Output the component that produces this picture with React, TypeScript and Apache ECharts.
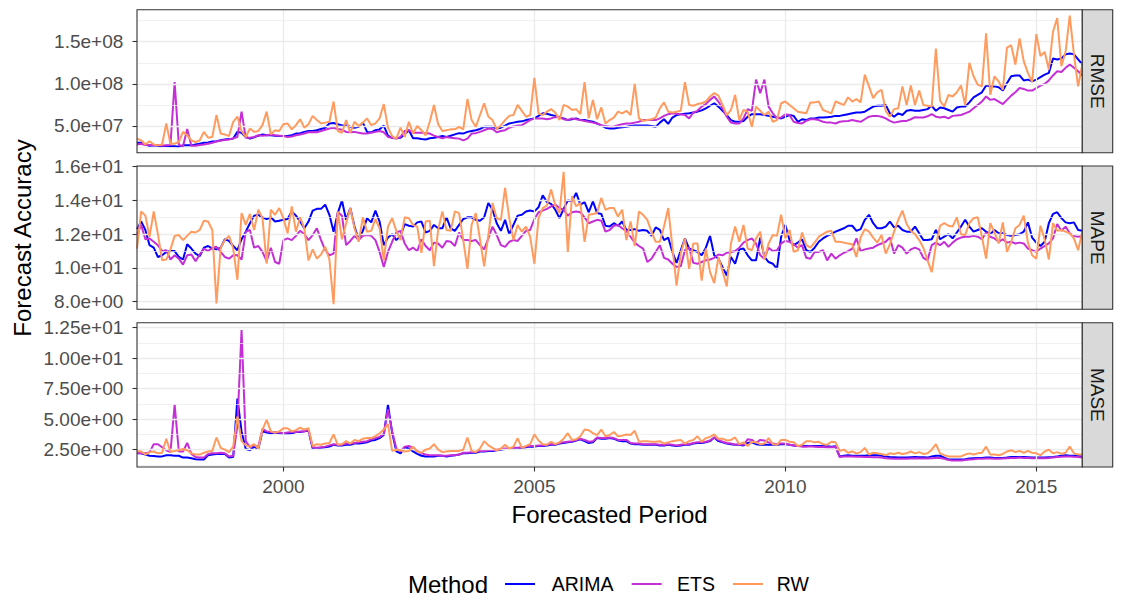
import React, { useEffect, useRef } from 'react';
import * as echarts from 'echarts';

// Monthly forecast periods: Feb 1997 .. Dec 2015
const START_YEAR = 1997;
const START_MONTH = 2;

const methodNames = ['ARIMA', 'ETS', 'RW'];
const metricNames = ['RMSE', 'MAPE', 'MASE'];

// RMSE, in millions
const rmseArimaMillions = [
  30, 30, 28, 26.5, 27, 26.5, 26, 26.5, 26, 26,
  25.5, 27, 27, 27, 28, 29, 30, 30.5, 31.5, 32,
  33, 34, 34.5, 35, 43, 42, 37, 35, 36.5, 38.5,
  40, 39, 39, 38.5, 38, 38, 38, 39, 41, 41.5,
  43, 44, 44, 45, 46.5, 48, 53, 53.5, 52, 50.5,
  50.5, 49, 48, 49, 54, 43, 42.5, 45, 46, 50.5,
  38.5, 36, 35.5, 36, 40, 45, 35.5, 35.5, 34.5, 34,
  35.5, 36, 37, 38, 37, 38.5, 40, 41.5,
  41, 43, 44, 45, 46.5, 49, 49, 49, 47, 48,
  50.5, 53, 54, 55, 55.5, 57, 58, 59, 62, 65,
  64.5, 63, 62, 60, 59, 57, 58, 59, 57, 57,
  56, 55, 53, 50.5, 48, 47, 47, 48, 48.5, 49,
  50, 50.5, 50.5, 50.5, 50.5, 50, 49, 54, 58, 52.5,
  60, 63, 64, 64.5, 65, 66, 67, 68.5, 71, 74,
  77, 73, 68, 63, 57, 55, 55, 56, 61, 64,
  64, 64, 63, 62, 61, 60,
  59, 61, 63, 62, 55, 58, 57, 59, 59, 60,
  60, 60.5, 61, 62, 62, 63, 64, 65, 66, 66,
  67, 70, 73, 74, 74, 75, 65, 61, 65, 63,
  68, 69, 68, 68, 69, 70, 74, 68, 72, 71,
  69, 67, 72, 73, 73, 78, 84, 87, 90, 98,
  97, 97, 96, 92, 101, 109, 110, 110, 104, 105,
  103, 105, 108, 111, 113, 130, 129, 130, 135, 136,
  135, 129, 123,
];
const rmseEtsMillions = [
  28, 29, 27.5, 27.5, 27, 27.5, 26.5, 27, 27.5, 102,
  27.5, 26, 46.5, 26.5, 26.5, 27.5, 28, 29, 30, 31.5,
  32.5, 33.5, 34, 35.5, 37, 67, 36, 36, 37, 39,
  38.5, 39, 40, 39, 38.5, 38, 37, 37.5, 39, 40,
  41, 42.5, 43, 42.5, 44, 45.5, 47, 48, 46.5, 45.5,
  43, 42.5, 43, 42, 41, 41, 42, 43, 44, 42.5,
  37, 36, 35, 37, 44, 45, 42, 42, 42, 41.5,
  41, 38.5, 37, 35.5, 37, 36, 35.5, 35,
  33, 35, 41, 41.5, 43, 45, 47, 46.5, 42.5, 44,
  45, 48, 49.5, 50.5, 51, 54, 57, 59, 59, 59,
  58, 59, 60.5, 61, 58, 57, 59, 58, 57, 56,
  55, 54, 53, 51, 50, 49, 49.5, 51, 52, 53,
  53, 54, 55, 57, 57, 57, 57, 59, 62, 64,
  65, 64.5, 64, 63, 59, 66, 68, 73, 76, 81,
  85, 79, 71, 61, 54, 53, 53, 59, 70, 68,
  105, 89, 105, 73, 65, 59,
  60, 64, 63, 55, 53.5, 53, 56, 58, 58, 57,
  55, 54, 54, 53, 55, 55.5, 56, 57, 56, 55,
  58, 61, 62, 62, 61, 59, 56, 54, 55, 56,
  56, 58, 60.5, 60, 60, 61.5, 64, 61, 60, 61,
  59, 62, 62.5, 63, 65, 67, 71, 75, 79, 85,
  81, 82, 79, 76, 81, 86, 90, 95, 94, 92,
  92, 95, 98, 100, 104, 110, 115, 114, 119, 123,
  119, 115, 110,
];
const rmseRwMillions = [
  35, 33, 28, 32, 28, 27, 28, 53, 29, 29,
  31, 43, 39, 33, 31, 33, 43, 36, 37, 63,
  41, 40, 38, 55, 61, 44, 37, 47, 43, 44,
  51, 67, 40, 45, 44, 52, 53, 46, 51, 58,
  48, 52, 62, 57, 53, 54, 55, 79, 44, 42,
  57, 42, 55, 50, 54, 59, 51, 53, 59, 76,
  48, 38, 35, 48, 37, 55, 41, 50, 45, 39,
  55, 75, 52, 44, 45, 46, 46, 49,
  46, 82, 57, 49, 63, 77, 61, 57, 46, 51,
  57, 62, 63, 75, 68, 61, 63, 107, 65, 63,
  67, 70, 66, 57, 75, 73, 69, 70, 64, 102,
  59, 81, 58, 72, 53, 57, 60, 67, 65, 68,
  63, 100, 59, 56, 57, 58, 60, 71, 78, 67,
  66, 67, 68, 102, 75, 74, 76, 77, 79, 85,
  89, 86, 75, 63, 69, 87, 57, 69, 67, 49,
  73, 68, 63, 67, 55, 57,
  77, 79, 75, 71, 67, 66, 65, 78, 78, 79,
  69, 67, 65, 79, 77, 75, 84, 79, 82, 78,
  111, 97, 83, 90, 93, 68, 61, 70, 71, 97,
  75, 98, 75, 92, 75, 74, 73, 142, 80, 73,
  87, 85, 90, 98, 75, 125, 109, 99, 97, 160,
  87, 109, 103, 93, 143, 146, 123, 154, 127, 113,
  102, 159, 133, 138, 117, 162, 178, 121, 138, 181,
  135, 97, 123,
];

// MAPE
const mapeArima = [
  12.3, 12.75, 12.25, 11.35, 11.2, 10.65, 10.75, 10.95, 11.0, 11.0,
  10.65, 10.5, 11.4, 11.15, 10.85, 10.7, 11.2, 11.3, 11.15, 11.1,
  11.2, 11.7, 11.6, 11.3, 11.05, 11.7, 12.15, 12.65, 13.1, 13.15,
  13.0, 12.9, 13.0, 12.75, 12.8, 12.85, 12.9, 13.35, 13.1, 12.75,
  12.35, 12.75, 13.4, 13.5, 13.5, 13.75, 13.15, 12.15, 13.25, 14.0,
  12.85, 13.55, 12.45, 11.7, 12.2, 12.95, 12.7, 13.4, 12.75, 11.35,
  11.8, 12.0, 11.65, 11.9, 12.6, 12.5, 12.45, 12.7, 12.75, 12.1,
  12.2, 12.55, 12.35, 12.35, 13.0, 12.35, 12.2, 12.55,
  12.9, 13.0, 13.0, 12.85, 12.8, 13.0, 13.85, 13.45, 12.65, 12.2,
  12.85, 12.0, 12.55, 13.1, 13.15, 13.35, 13.4, 13.35, 13.6, 14.3,
  13.9, 13.8, 13.45, 12.95, 13.5, 14.0, 13.95, 14.45, 13.75, 13.9,
  13.3, 13.95, 13.25, 13.2, 12.5, 12.45, 12.65, 12.5, 12.75, 12.25,
  12.25, 12.3, 12.2, 12.25, 12.2, 11.9, 12.4, 12.25, 11.65, 11.8,
  10.95, 10.3, 11.05, 11.75, 11.15, 11.05, 10.95, 10.75, 11.2, 11.9,
  10.75, 10.55, 10.05, 9.55, 10.65, 10.25, 11.1, 11.15, 10.75, 10.45,
  10.45, 11.8, 10.65, 10.35, 10.25, 9.95,
  11.85, 12.55, 11.65, 11.35, 11.5, 11.7, 11.05, 10.95, 11.2, 11.55,
  11.75, 11.9, 12.0, 12.15, 12.25, 12.35, 12.5, 12.5, 12.2, 12.3,
  12.85, 13.15, 12.65, 12.35, 12.35, 12.45, 12.75, 12.4, 12.5, 12.25,
  12.15, 12.15, 12.45, 12.05, 11.65, 11.65, 11.7, 12.25, 11.7, 11.85,
  12.0, 11.75, 12.1, 12.45, 12.85, 12.45, 12.15, 12.25, 12.35, 12.15,
  12.0, 12.25, 12.05, 12.05, 11.95, 11.9, 11.95, 12.0, 12.15, 12.7,
  11.8, 11.5, 11.3, 11.55, 12.65, 13.2, 13.3, 12.95, 12.7, 12.65,
  12.7, 12.25, 12.2,
];
const mapeEts = [
  11.95, 12.55, 11.7, 11.75, 11.55, 11.35, 11.0, 11.05, 10.5, 10.75,
  10.55, 10.2, 10.75, 10.8, 10.4, 10.8, 11.15, 11.0, 11.2, 11.25,
  10.95, 10.65, 10.55, 10.75, 10.75, 10.5, 12.15, 12.25, 11.2, 11.3,
  10.95, 10.4, 11.2, 10.35, 10.25, 11.65, 11.75, 11.65, 11.9, 12.2,
  12.0, 11.65, 11.95, 12.35, 11.65, 11.05, 10.75, 10.85, 13.3, 13.1,
  11.35, 11.6, 11.9, 11.65, 11.9, 11.95, 11.9, 11.65, 10.95, 10.05,
  10.95, 11.55, 12.1, 12.2, 11.45, 11.05, 11.2, 11.0, 11.7, 11.3,
  11.05, 11.5, 11.45, 11.2, 11.6, 11.55, 11.3, 12.1,
  11.65, 11.65, 11.6, 11.65, 11.35, 11.1, 11.75, 12.45, 11.95, 11.35,
  11.25, 11.55, 11.65, 11.6, 11.9, 12.2, 12.25, 12.9, 13.3, 13.4,
  13.5, 13.65, 13.75, 13.55, 13.45, 13.1, 13.3, 13.35, 13.3, 13.0,
  12.65, 12.75, 12.85, 12.8, 12.15, 12.25, 12.5, 12.55, 12.35, 12.2,
  11.85, 11.5, 11.3, 11.15, 10.35, 10.55, 10.95, 11.35, 10.6, 10.5,
  10.25, 10.05, 10.1, 11.05, 11.2, 10.3, 10.25, 10.35, 10.45, 10.5,
  10.6, 10.8, 10.75, 10.9, 10.95, 11.0, 11.2, 11.5, 11.65, 11.75,
  11.45, 10.75, 10.55, 11.2, 11.0, 11.05,
  11.45, 11.6, 11.55, 11.4, 11.2, 11.35, 10.6, 10.55, 10.95, 10.95,
  11.05, 10.45, 10.85, 10.55, 10.75, 10.9, 11.0, 11.15, 11.75, 11.0,
  11.1, 11.15, 11.2, 11.35, 11.45, 11.55, 11.8, 10.85, 11.35, 11.2,
  10.85, 11.1, 11.2, 11.1, 10.6, 10.45, 11.35, 11.5, 11.35, 11.55,
  11.25, 11.5, 11.7, 11.8, 11.85, 11.85, 11.9, 11.85, 11.7, 12.1,
  11.85, 11.75, 11.55, 11.7, 11.5, 11.55, 11.45, 11.5, 11.45, 11.15,
  11.05, 10.95, 11.15, 11.3, 11.45, 11.75, 12.6, 12.2, 12.45, 12.05,
  11.9, 11.85, 11.9,
];
const mapeRw = [
  11.15, 13.35, 13.1, 11.85, 13.35, 12.0, 10.45, 10.5, 11.1, 11.9,
  11.95, 11.65, 11.9, 12.15, 12.1, 12.25, 12.8, 12.75, 12.25, 7.9,
  11.2, 11.65, 11.9, 11.15, 9.3, 13.25, 12.55, 13.2, 12.25, 13.45,
  12.95, 10.25, 13.45, 13.15, 13.55, 12.95, 12.05, 13.65, 12.15, 13.0,
  12.35, 10.45, 11.1, 10.55, 10.8, 11.25, 10.5, 7.85, 13.35, 11.7,
  12.65, 13.55, 12.35, 11.55, 13.0, 12.15, 12.2, 12.9, 12.35, 10.45,
  12.45, 12.95, 12.2, 11.65, 13.0, 12.95, 12.55, 12.45, 10.9, 12.75,
  12.8, 10.1, 12.25, 13.35, 12.25, 12.2, 13.35, 13.25,
  11.65, 9.95, 12.55, 13.25, 11.7, 10.1, 11.95, 13.85, 12.95, 12.85,
  14.75, 12.95, 11.65, 12.55, 12.15, 12.45, 11.85, 10.25, 12.95, 13.55,
  13.7, 14.65, 13.7, 13.25, 15.7, 10.95, 14.25, 13.65, 13.85, 11.55,
  13.15, 13.2, 13.25, 14.15, 13.45, 13.55, 13.55, 13.05, 13.45, 11.65,
  12.75, 11.3, 13.35, 13.15, 12.85, 12.15, 11.55, 11.55, 12.45, 13.55,
  11.25, 8.95, 10.85, 11.75, 9.95, 11.45, 11.45, 9.25, 11.15, 9.75,
  9.1, 10.65, 9.8, 8.9, 11.45, 12.45, 11.55, 12.55, 11.15, 11.05,
  11.75, 12.15, 10.5, 11.45, 11.95, 11.9,
  13.15, 11.75, 12.25, 10.95, 11.05, 12.1, 11.35, 11.2, 11.5, 11.85,
  12.0, 12.15, 12.2, 11.55, 11.55, 11.5, 11.45, 11.4, 10.65, 11.8,
  12.3, 12.15, 11.8, 11.5, 11.95, 10.85, 11.4, 12.15, 12.85, 13.4,
  12.6, 12.2, 12.0, 11.65, 11.2, 10.45, 9.75, 11.35, 12.5, 12.65,
  12.5, 12.45, 13.0, 12.0, 11.95, 12.65, 12.95, 13.0, 11.85, 10.55,
  12.65, 12.1, 11.45, 12.7, 10.95, 11.55, 12.35, 12.55, 13.1, 11.5,
  10.75, 10.55, 12.5, 11.7, 10.5, 12.65, 12.2, 12.25, 12.15, 12.05,
  11.75, 11.05, 12.15,
];

// MASE
const maseArima = [
  2.2, 2.2, 2.1, 2.0, 1.98, 1.95, 1.95, 2.05, 2.05, 2.0,
  2.0, 1.85, 1.85, 1.8, 1.72, 1.7, 1.7, 2.05, 2.1, 2.15,
  2.15, 2.15, 1.85, 1.9, 6.7, 4.0, 2.55, 2.45, 2.75, 2.55,
  4.0, 3.9, 3.85, 3.9, 3.85, 3.8, 3.8, 3.85, 3.95, 3.95,
  4.0, 4.05, 2.6, 2.6, 2.65, 2.7, 2.75, 2.9, 2.85, 2.85,
  2.9, 2.9, 3.0, 3.0, 3.05, 3.1, 3.25, 3.3, 3.45, 3.7,
  6.2, 3.9, 2.36, 2.2, 2.7, 2.6, 2.36, 2.15, 2.0, 1.95,
  1.95, 1.95, 2.0, 2.0, 1.95, 2.0, 2.05, 2.1,
  2.2, 2.2, 2.25, 2.25, 2.35, 2.35, 2.4, 2.4, 2.45, 2.5,
  2.55, 2.55, 2.6, 2.6, 2.65, 2.7, 2.75, 2.75, 2.8, 2.8,
  2.85, 2.9, 2.9, 3.0, 3.05, 3.1, 3.15, 3.25, 3.35, 3.2,
  3.05, 3.1, 3.45, 3.4, 3.4, 3.45, 3.4, 3.25, 3.2, 3.2,
  3.0, 2.95, 2.95, 2.9, 2.9, 2.9, 2.9, 2.85, 2.85, 2.9,
  2.85, 2.8, 2.85, 2.9, 2.9, 3.0, 3.05, 3.05, 3.1, 3.2,
  3.5, 3.2, 3.1, 3.0, 2.95, 2.9, 2.9, 2.85, 3.05, 3.1,
  2.95, 2.9, 2.9, 2.9, 2.9, 2.9,
  2.95, 2.95, 2.9, 2.85, 2.8, 2.8, 2.8, 2.8, 2.8, 2.8,
  2.8, 2.78, 2.75, 2.78, 1.95, 2.0, 2.05, 2.0, 2.0, 2.0,
  2.0, 2.05, 2.05, 2.05, 2.0, 1.95, 1.9, 1.88, 1.85, 1.85,
  1.85, 1.88, 1.9, 1.88, 1.88, 1.85, 1.95, 2.0, 2.0, 1.85,
  1.7, 1.7, 1.7, 1.7, 1.72, 1.78, 1.8, 1.82, 1.82, 1.85,
  1.85, 1.82, 1.82, 1.82, 1.85, 1.9, 1.9, 1.9, 1.9, 1.88,
  1.85, 1.85, 1.85, 1.85, 1.88, 1.9, 1.95, 2.0, 2.05, 2.0,
  2.0, 1.98, 1.95,
];
const maseEts = [
  2.25, 2.2, 2.2, 2.3, 2.95, 2.95, 2.7, 2.45, 2.3, 6.2,
  2.35, 2.35, 3.05, 2.15, 1.9, 1.85, 1.85, 2.15, 2.2, 2.2,
  2.25, 2.2, 1.95, 2.0, 4.5, 12.3, 3.2, 2.7, 2.85, 2.75,
  4.2, 4.0, 3.95, 3.9, 3.9, 3.85, 3.9, 3.95, 3.95, 4.0,
  4.0, 4.1, 2.7, 2.65, 2.7, 2.75, 2.85, 2.95, 2.9, 2.9,
  3.0, 3.0, 3.05, 3.1, 3.15, 3.2, 3.35, 3.45, 3.55, 3.8,
  5.8, 4.0, 2.6, 2.35, 2.75, 2.8, 2.65, 2.4, 2.2, 2.1,
  2.05, 2.05, 2.05, 2.0, 2.0, 2.05, 2.05, 2.1,
  2.25, 2.25, 2.3, 2.3, 2.4, 2.4, 2.45, 2.45, 2.5, 2.55,
  2.6, 2.6, 2.65, 2.65, 2.7, 2.75, 2.8, 2.8, 2.85, 2.85,
  2.9, 2.95, 2.95, 3.05, 3.1, 3.15, 3.2, 3.3, 3.4, 3.3,
  3.15, 3.2, 3.5, 3.45, 3.45, 3.5, 3.45, 3.3, 3.3, 3.3,
  3.05, 3.0, 3.0, 2.95, 2.95, 2.95, 2.95, 2.9, 2.9, 2.95,
  2.9, 2.85, 2.9, 2.95, 2.95, 3.05, 3.1, 3.1, 3.15, 3.25,
  3.5, 3.3, 3.15, 3.05, 3.0, 2.9, 2.95, 2.9, 3.35, 3.3,
  3.05, 3.3, 3.25, 3.1, 3.0, 2.95,
  3.0, 3.0, 2.9, 2.85, 2.8, 2.75, 2.75, 2.78, 2.75, 2.72,
  2.72, 2.7, 2.7, 2.72, 1.9, 1.95, 1.95, 1.95, 1.92, 1.92,
  1.9, 1.9, 1.88, 1.88, 1.85, 1.8, 1.78, 1.75, 1.75, 1.75,
  1.75, 1.78, 1.8, 1.78, 1.78, 1.78, 1.8, 1.82, 1.82, 1.75,
  1.65, 1.62, 1.62, 1.62, 1.65, 1.7, 1.72, 1.75, 1.75, 1.78,
  1.78, 1.75, 1.75, 1.78, 1.8, 1.82, 1.82, 1.85, 1.82, 1.82,
  1.8, 1.8, 1.8, 1.8, 1.82, 1.85, 1.9, 1.92, 1.95, 1.95,
  1.92, 1.9, 1.85,
];
const maseRw = [
  2.4, 2.35, 2.1, 2.3, 2.35, 2.2, 2.25, 3.4, 2.3, 2.4,
  2.45, 2.55, 2.45, 2.2, 2.1, 2.1, 2.25, 2.35, 2.4, 3.5,
  2.65, 2.5, 2.3, 2.75, 5.2, 3.2, 2.85, 2.75, 2.95, 2.6,
  4.15, 4.95, 4.0, 3.9, 4.0, 4.25, 4.25, 4.0, 4.1, 4.3,
  4.15, 4.25, 2.8, 2.95, 2.9, 3.0, 3.05, 3.75, 2.9, 2.95,
  3.2, 3.0, 3.3, 3.2, 3.4, 3.45, 3.45, 3.6, 3.85, 4.15,
  4.6, 2.4, 2.5, 2.45, 2.35, 2.4, 2.75, 2.35, 2.25, 2.5,
  2.6, 2.95, 2.5, 2.3, 2.35, 2.4, 2.4, 2.4,
  2.5, 3.5, 2.4, 2.3, 2.6, 3.2, 2.85, 2.65, 2.45, 2.6,
  2.9, 2.6, 2.75, 3.45, 2.65, 2.8, 2.95, 3.75, 3.25, 2.95,
  2.9, 3.15, 2.95, 3.1, 3.4, 3.85, 3.3, 3.35, 3.6, 4.15,
  4.1, 3.85, 3.7, 4.15, 3.6, 3.7, 3.95, 3.6, 3.65, 3.75,
  3.7, 4.05, 3.15, 3.2, 3.2, 3.15, 3.15, 3.2, 3.0, 3.1,
  3.2, 3.25, 3.3, 3.0, 3.2, 3.3, 3.6, 3.15, 3.45, 3.55,
  3.75, 3.4, 3.4, 3.25, 3.3, 3.5, 2.95, 3.1, 2.8, 3.15,
  3.1, 2.95, 3.0, 3.45, 2.95, 2.9,
  3.3, 3.3, 3.15, 3.1, 2.8, 2.9, 3.2, 3.2, 3.1, 3.15,
  2.95, 2.9, 3.15, 3.1, 2.4, 2.5, 2.25, 2.35, 2.2, 2.3,
  2.65, 2.1, 2.25, 2.2, 2.15, 2.05, 2.2, 2.15, 2.25, 2.15,
  2.2, 2.35, 2.2, 2.3, 2.15, 2.2, 2.5, 2.95, 2.2, 2.05,
  1.95, 1.95, 1.95, 1.95, 2.1, 2.2, 2.1, 2.2, 2.25, 2.75,
  2.1, 2.1, 2.05, 2.15, 2.35, 2.45, 2.3, 2.4, 2.25, 2.4,
  2.25, 2.2, 2.05, 2.35, 2.5, 2.2, 2.3, 2.15, 2.25, 2.75,
  2.2, 2.1, 2.1,
];

// Tick values
const xTicks = [2000, 2005, 2010, 2015];
const rmseTicks = [5e7, 1e8, 1.5e8];
const rmseMinor = [2.5e7, 7.5e7, 1.25e8, 1.75e8];
const mapeTicks = [8, 10, 12, 14, 16];
const mapeMinor = [9, 11, 13, 15];
const maseTicks = [2.5, 5, 7.5, 10, 12.5];
const maseMinor = [1.25, 3.75, 6.25, 8.75, 11.25];

const COLORS: Record<string, string> = { ARIMA: '#0000FF', ETS: '#C42ED6', RW: '#FF9B5E' };
const FONT = '"Liberation Sans", Arial, Helvetica, sans-serif';

const LEFT = 137;
const PANEL_W = 945.3;
const PANELS = [
  { top: 9.7, height: 143 },
  { top: 166, height: 143.3 },
  { top: 322.7, height: 144.3 },
];

function sci(digits: number) {
  return (v: number) => Number(v).toExponential(digits).replace(/e([+-])(\d)$/, 'e$10$2');
}

export default function App() {
  const ref = useRef<HTMLDivElement>(null);

  useEffect(() => {
    if (!ref.current) return;
    const chart = echarts.init(ref.current, undefined, { renderer: 'svg' });

    const times = rmseArimaMillions.map((_, i) => START_YEAR + (START_MONTH - 1 + i) / 12);
    const tMin = times[0];
    const tMax = times[times.length - 1];

    const panelData = [
      {
        series: [rmseArimaMillions, rmseEtsMillions, rmseRwMillions],
        unit: 1e6,
        min: 1.83e7,
        max: 1.88e8,
        ticks: rmseTicks,
        minor: rmseMinor,
        fmt: sci(1),
      },
      {
        series: [mapeArima, mapeEts, mapeRw],
        unit: 1,
        min: 7.55,
        max: 16.04,
        ticks: mapeTicks,
        minor: mapeMinor,
        fmt: sci(1),
      },
      {
        series: [maseArima, maseEts, maseRw],
        unit: 1,
        min: 1.08,
        max: 12.91,
        ticks: maseTicks,
        minor: maseMinor,
        fmt: sci(2),
      },
    ];

    const tickLine = { color: '#333333', width: 1.1 };
    const axisText = { fontSize: 19, color: '#4D4D4D', fontFamily: FONT };

    const grids = PANELS.map((p) => ({
      left: LEFT,
      top: p.top,
      width: PANEL_W,
      height: p.height,
      show: false,
      containLabel: false,
      outerBoundsMode: 'none',
    }));

    const xAxes = PANELS.map((_, p) => ({
      type: 'value',
      gridIndex: p,
      min: tMin,
      max: tMax,
      axisLine: { show: false },
      axisTick: { show: p === 2, customValues: xTicks, length: 4.5, lineStyle: tickLine },
      axisLabel: {
        show: p === 2,
        customValues: xTicks,
        margin: 9.5,
        ...axisText,
        formatter: (v: number) => String(Math.round(v)),
      },
      splitLine: { show: false },
      minorSplitLine: { show: false },
    }));

    const yAxes = panelData.map((d, p) => ({
      type: 'value',
      gridIndex: p,
      min: d.min,
      max: d.max,
      axisLine: { show: false },
      axisTick: { show: true, customValues: d.ticks, length: 4.5, lineStyle: tickLine },
      axisLabel: { customValues: d.ticks, margin: 13.7, ...axisText, formatter: d.fmt },
      splitLine: { show: false },
    }));

    const series: any[] = [];
    panelData.forEach((d, p) => {
      const gridLines: any[] = [];
      d.minor.forEach((v) =>
        gridLines.push({ yAxis: v, lineStyle: { color: '#EBEBEB', width: 0.7, type: 'solid' } })
      );
      d.ticks.forEach((v) =>
        gridLines.push({ yAxis: v, lineStyle: { color: '#EBEBEB', width: 1.3, type: 'solid' } })
      );
      xTicks.forEach((v) =>
        gridLines.push({ xAxis: v, lineStyle: { color: '#EBEBEB', width: 1.3, type: 'solid' } })
      );
      series.push({
        type: 'line',
        name: 'grid-' + metricNames[p],
        xAxisIndex: p,
        yAxisIndex: p,
        data: [],
        z: 1,
        silent: true,
        markLine: {
          silent: true,
          symbol: ['none', 'none'],
          label: { show: false },
          emphasis: { disabled: true },
          data: gridLines,
        },
      });
      d.series.forEach((vals, m) => {
        const name = methodNames[m];
        series.push({
          type: 'line',
          name,
          xAxisIndex: p,
          yAxisIndex: p,
          data: vals.map((v, i) => [times[i], v * d.unit]),
          showSymbol: false,
          symbol: 'none',
          silent: true,
          z: 3 + m,
          lineStyle: { color: COLORS[name], width: 2 },
          itemStyle: { color: COLORS[name] },
          emphasis: { disabled: true },
        });
      });
    });

    const graphics: any[] = [];
    PANELS.forEach((p, idx) => {
      graphics.push({
        type: 'rect',
        z: 100,
        silent: true,
        shape: { x: LEFT, y: p.top, width: PANEL_W, height: p.height },
        style: { fill: 'none', stroke: '#333333', lineWidth: 1.1 },
      });
      graphics.push({
        type: 'rect',
        z: 100,
        silent: true,
        shape: { x: LEFT + PANEL_W, y: p.top, width: 30.4, height: p.height },
        style: { fill: '#D9D9D9', stroke: '#333333', lineWidth: 1.1 },
      });
      graphics.push({
        type: 'text',
        z: 101,
        silent: true,
        x: LEFT + PANEL_W + 15.4,
        y: p.top + p.height / 2,
        rotation: -Math.PI / 2,
        style: {
          text: metricNames[idx],
          fontSize: 19,
          fontFamily: FONT,
          fill: '#1A1A1A',
          align: 'center',
          verticalAlign: 'middle',
        },
      });
    });

    graphics.push({
      type: 'text',
      silent: true,
      x: 22,
      y: 238,
      rotation: Math.PI / 2,
      style: {
        text: 'Forecast Accuracy',
        fontSize: 24,
        fontFamily: FONT,
        fill: '#000000',
        align: 'center',
        verticalAlign: 'middle',
      },
    });
    graphics.push({
      type: 'text',
      silent: true,
      x: LEFT + PANEL_W / 2,
      y: 514,
      style: {
        text: 'Forecasted Period',
        fontSize: 24,
        fontFamily: FONT,
        fill: '#000000',
        align: 'center',
        verticalAlign: 'middle',
      },
    });

    // Legend
    const legendY = 584;
    graphics.push({
      type: 'text',
      silent: true,
      x: 408,
      y: legendY,
      style: {
        text: 'Method',
        fontSize: 24,
        fontFamily: FONT,
        fill: '#000000',
        align: 'left',
        verticalAlign: 'middle',
      },
    });
    const keyX = [505, 631.7, 733];
    const labelX = [551.7, 677, 776.7];
    methodNames.forEach((name, m) => {
      graphics.push({
        type: 'line',
        silent: true,
        shape: { x1: keyX[m], y1: legendY, x2: keyX[m] + 30, y2: legendY },
        style: { stroke: COLORS[name], lineWidth: 2 },
      });
      graphics.push({
        type: 'text',
        silent: true,
        x: labelX[m],
        y: legendY,
        style: {
          text: name,
          fontSize: 19.5,
          fontFamily: FONT,
          fill: '#000000',
          align: 'left',
          verticalAlign: 'middle',
        },
      });
    });

    chart.setOption({
      animation: false,
      backgroundColor: '#FFFFFF',
      textStyle: { fontFamily: FONT },
      grid: grids,
      xAxis: xAxes,
      yAxis: yAxes,
      series,
      graphic: { elements: graphics },
    });

    return () => {
      chart.dispose();
    };
  }, []);

  return (
    <div
      ref={ref}
      style={{ position: 'absolute', left: 0, top: 0, width: 1122, height: 596, background: '#FFFFFF' }}
    />
  );
}
